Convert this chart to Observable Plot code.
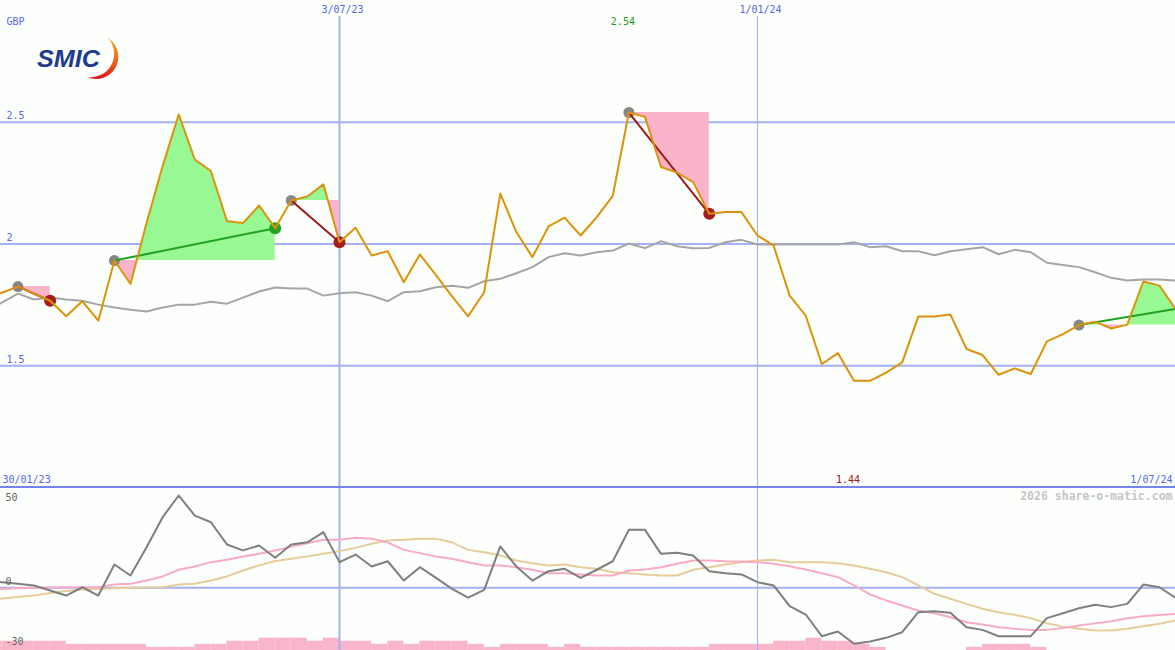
<!DOCTYPE html>
<html><head><meta charset="utf-8">
<script src="https://cdn.jsdelivr.net/npm/d3@7"></script>
<script src="https://cdn.jsdelivr.net/npm/@observablehq/plot@0.6"></script>
<style>
html,body{margin:0;padding:0;background:#fcfffc;}
#wrap{position:relative;width:1175px;height:650px;overflow:hidden;background:#fcfffc;}
#wrap svg.plotsvg{display:block;}
#logo{position:absolute;left:0;top:0;}
</style></head><body>
<div id="wrap"></div>
<script>
// ---------------- data ----------------
const startDate = "2023-01-30";            // first weekly observation (Monday)
const price = [
 1.780, 1.800, 1.825, 1.796, 1.767, 1.703, 1.765, 1.685, 1.932, 1.836,
 2.086, 2.320, 2.532, 2.347, 2.300, 2.094, 2.086, 2.158, 2.065, 2.179,
 2.195, 2.245, 2.007, 2.067, 1.953, 1.970, 1.843, 1.957, 1.872, 1.785,
 1.703, 1.802, 2.207, 2.049, 1.946, 2.072, 2.108, 2.035, 2.110, 2.198,
 2.540, 2.522, 2.316, 2.293, 2.254, 2.124, 2.131, 2.131, 2.035, 1.994,
 1.788, 1.706, 1.507, 1.552, 1.438, 1.438, 1.472, 1.514, 1.702, 1.702,
 1.710, 1.569, 1.544, 1.463, 1.489, 1.466, 1.600, 1.630, 1.667, 1.681,
 1.653, 1.669, 1.846, 1.829, 1.733];
const movingAvg = [
 1.726, 1.759, 1.796, 1.772, 1.780, 1.772, 1.767, 1.751, 1.739, 1.730,
 1.723, 1.739, 1.751, 1.751, 1.763, 1.755, 1.780, 1.805, 1.821, 1.817,
 1.817, 1.788, 1.798, 1.802, 1.788, 1.765, 1.802, 1.806, 1.822, 1.829,
 1.820, 1.847, 1.857, 1.880, 1.905, 1.946, 1.962, 1.953, 1.966, 1.973,
 2.002, 1.983, 2.012, 1.991, 1.983, 1.984, 2.007, 2.017, 1.998, 1.998,
 1.998, 1.998, 1.998, 1.998, 2.007, 1.987, 1.991, 1.970, 1.970, 1.954,
 1.970, 1.978, 1.987, 1.958, 1.976, 1.966, 1.923, 1.914, 1.905, 1.884,
 1.861, 1.850, 1.854, 1.854, 1.850];
const momentum = [
 4.0, 3.1, 2.2, 1.3, -1.5, -4.3, 0.3, -4.3, 12.9, 6.8,
 22.5, 39.1, 51.1, 40.0, 36.3, 24.0, 20.7, 23.4, 16.6, 24.0,
 25.2, 30.8, 14.2, 18.4, 11.8, 14.7, 4.0, 11.4, 5.5, -0.6,
 -5.5, -1.1, 22.9, 11.8, 4.0, 9.2, 10.5, 5.5, 10.0, 14.7,
 32.1, 32.1, 18.8, 19.4, 17.9, 9.2, 8.1, 7.4, 3.1, 1.3,
 -10.2, -14.8, -26.8, -24.2, -31.0, -29.7, -27.7, -24.6, -13.5, -13.0,
 -13.8, -21.8, -23.3, -26.8, -26.8, -26.8, -16.8, -14.1, -11.3, -9.4,
 -10.7, -8.9, 1.8, 0.3, -5.5];
const signalFast = [
 -0.7, -0.6, -0.3, 0.0, 0.2, 0.3, 0.3, 0.3, 1.8, 2.2,
 4.0, 6.3, 10.0, 11.8, 14.2, 15.5, 17.3, 18.8, 20.6, 22.8,
 24.7, 26.6, 26.6, 27.7, 27.1, 25.2, 21.0, 19.2, 17.3, 16.1,
 14.2, 12.4, 12.4, 11.4, 10.0, 8.1, 8.1, 7.4, 6.8, 6.8,
 9.6, 10.1, 11.4, 13.3, 15.1, 15.1, 14.7, 14.5, 14.2, 13.3,
 11.9, 10.1, 8.1, 5.9, 1.3, -3.7, -7.0, -9.8, -12.6, -14.1,
 -16.3, -19.1, -20.3, -21.8, -22.7, -23.3, -23.3, -22.2, -20.9, -19.7,
 -18.5, -16.9, -15.8, -15.0, -14.5];
const signalSlow = [
 -7.6, -5.9, -5.1, -4.3, -2.9, -1.8, -0.9, -0.6, -0.3, 0.0,
 0.2, 0.3, 1.8, 2.2, 4.0, 6.3, 9.6, 12.4, 14.8, 16.1,
 17.4, 18.8, 20.3, 22.1, 24.4, 26.2, 26.6, 27.1, 27.1, 25.2,
 21.0, 19.7, 17.9, 15.1, 13.6, 12.4, 12.9, 11.4, 10.5, 8.6,
 8.1, 7.4, 6.8, 6.8, 10.0, 11.4, 12.9, 14.2, 15.1, 15.5,
 14.2, 14.2, 14.2, 13.6, 12.4, 10.5, 8.6, 5.9, 1.3, -3.3,
 -6.1, -8.9, -11.6, -13.5, -15.0, -16.8, -19.6, -21.5, -22.7, -23.7,
 -23.7, -22.7, -21.3, -19.9, -18.1];
// histogram levels for each weekly interval (i -> i+1)
const histLevel = [
 3,3,3,3,3, 2,2,2,2,2, 1,1,1, 2,2, 3,3, 4,4,4, 3, 4, 3,3, 2, 3, 2, 3,3,3,
 2, 1, 2,2,2, 1, 2, 1,1,1,1,1,1,1,1, 2,2,2,2, 3,3, 4, 3,3, 2, 1,
 0,0,0,0,0, 1, 2,2,2, 1, 0,0,0,0,0,0,0,0];
// trades: entry / exit week index
const tradeEntry = [2, 8, 19, 40, 68];
const tradeExit  = [4, 18, 22, 45, 74];
const tradeOpen  = [false, false, false, false, true];

const priceTicks = [2.5, 2, 1.5];
const priceTickLabels = ["2.5", "2", "1.5"];
const markDates = ["2023-07-03", "2024-01-01"];
const markLabels = ["3/07/23", "1/01/24"];
const startLabel = "30/01/23";
const endLabel = "1/07/24";
const currencyLabel = "GBP";
const lowerTicks = [50, 0, -30];
const watermark = "2026 share-o-matic.com";

// ---------------- derived ----------------
const WEEK = 7 * 864e5;
const t0 = Date.parse(startDate + "T00:00:00Z");
const dates = price.map((_, i) => new Date(t0 + i * WEEK));
const rows = price.map((p, i) => ({date: dates[i], price: p, ma: movingAvg[i], mom: momentum[i], fast: signalFast[i], slow: signalSlow[i]}));
const trades = tradeEntry.map((a, t) => {
  const b = tradeExit[t];
  return {t, a, b, open: tradeOpen[t], gain: price[b] >= price[a]};
});
const fills = [];
trades.forEach(({t, a, b}) => {
  const e = price[a];
  for (let i = a; i <= b; i++) {
    fills.push({trade: t, date: dates[i], entry: e, p: price[i]});
    if (i < b) {
      const d0 = price[i] - e, d1 = price[i + 1] - e;
      if (d0 * d1 < 0) {
        const f = d0 / (d0 - d1);
        fills.push({trade: t, date: new Date(+dates[i] + f * WEEK), entry: e, p: e});
      }
    }
  }
});
const maxI = d3.maxIndex(price);
const minI = d3.minIndex(price);

// ---------------- styling ----------------
const BG = "#fcfffc";
const GRID = "#a4b1f2";
const LABEL = "#5566ee";
const FONT = "DejaVu Sans Mono, monospace";
const xScale = {type: "utc", domain: [new Date("2023-02-05T09:36:00Z"), new Date("2024-07-01T00:00:00Z")], axis: null};
const svgStyle = {background: BG, overflow: "hidden", fontFamily: FONT, fontSize: "10px"};

const topChart = Plot.plot({
  width: 1175, height: 488,
  marginTop: 0, marginRight: 0, marginBottom: 1, marginLeft: 0,
  x: xScale,
  y: {domain: [1, 3], axis: null},
  style: svgStyle,
  className: "plotsvg",
  marks: [
    Plot.ruleY(priceTicks, {stroke: GRID, strokeWidth: 2}),
    Plot.ruleX(markDates, {x: d => new Date(d + "T00:00:00Z"), stroke: GRID, strokeWidth: (d, i) => i === 0 ? 2 : 1, insetTop: 16}),
    Plot.areaY(fills, {x: "date", y1: "entry", y2: d => Math.max(d.p, d.entry), z: "trade", fill: "#97f894", curve: "linear"}),
    Plot.areaY(fills, {x: "date", y1: "entry", y2: d => Math.min(d.p, d.entry), z: "trade", fill: "#fab4ca", curve: "linear"}),
    Plot.line(rows, {x: "date", y: "ma", stroke: "#a5a5a5", strokeWidth: 2, clip: true}),
    Plot.dot(trades, {x: d => dates[d.a], y: d => price[d.a], r: 5.5, fill: "#868686", stroke: "none"}),
    Plot.dot(trades.filter(d => !d.open), {x: d => dates[d.b], y: d => price[d.b], r: 6, fill: d => d.gain ? "#26a226" : "#a51c1c", stroke: "none"}),
    Plot.link(trades, {x1: d => dates[d.a], y1: d => price[d.a], x2: d => dates[d.b], y2: d => price[d.b], stroke: d => d.gain ? "#20a020" : "#a01a1a", strokeWidth: 2}),
    Plot.line(rows, {x: "date", y: "price", stroke: "#dc930c", strokeWidth: 2, clip: true}),
    Plot.ruleY([1], {stroke: "#7385ef", strokeWidth: 2, dy: -0.5}),
    // labels
    Plot.text([currencyLabel], {frameAnchor: "top-left", dx: 6, dy: 21, textAnchor: "start", lineAnchor: "middle", fill: LABEL}),
    Plot.text(priceTicks, {y: d => d, text: (d, i) => priceTickLabels[i], frameAnchor: "left", dx: 6, dy: -6, textAnchor: "start", lineAnchor: "middle", fill: LABEL}),
    Plot.text(markDates, {x: d => new Date(d + "T00:00:00Z"), text: (d, i) => markLabels[i], frameAnchor: "top", dx: 3, dy: 9, textAnchor: "middle", lineAnchor: "middle", fill: LABEL}),
    Plot.text([maxI], {x: i => dates[i], text: i => d3.format(".2f")(price[i]), frameAnchor: "top", dx: -6, dy: 21, textAnchor: "middle", lineAnchor: "middle", fill: "#1f9a1f"}),
    Plot.text([minI], {x: i => dates[i], text: i => d3.format(".2f")(price[i]), frameAnchor: "bottom", dx: -6, dy: -8, textAnchor: "middle", lineAnchor: "middle", fill: "#a01414"}),
    Plot.text([startLabel], {frameAnchor: "bottom-left", dx: 2, dy: -8, textAnchor: "start", lineAnchor: "middle", fill: LABEL}),
    Plot.text([endLabel], {frameAnchor: "bottom-right", dx: -3, dy: -8, textAnchor: "end", lineAnchor: "middle", fill: LABEL})
  ]
});

const yLo = -34.72, yHi = 54.98, levelUnit = 1.705;
const bottomChart = Plot.plot({
  width: 1175, height: 162,
  marginTop: 0, marginRight: 0, marginBottom: 0, marginLeft: 0,
  x: xScale,
  y: {domain: [yLo, yHi], axis: null},
  style: svgStyle,
  className: "plotsvg",
  marks: [
    Plot.rect(histLevel, {x1: (d, i) => dates[i], x2: (d, i) => dates[i + 1], y1: () => yLo, y2: d => yLo + d * levelUnit, fill: "#f9b5c9", clip: true}),
    Plot.ruleY([0], {stroke: GRID, strokeWidth: 2}),
    Plot.ruleX(markDates, {x: d => new Date(d + "T00:00:00Z"), stroke: GRID, strokeWidth: (d, i) => i === 0 ? 2 : 1}),
    Plot.line(rows, {x: "date", y: "slow", stroke: "#e6cc9a", strokeWidth: 2, clip: true}),
    Plot.line(rows, {x: "date", y: "fast", stroke: "#f9abc4", strokeWidth: 2, clip: true}),
    Plot.line(rows, {x: "date", y: "mom", stroke: "#7f7f7f", strokeWidth: 2, clip: true}),
    Plot.text(lowerTicks.filter(d => d !== 0), {y: d => d, text: d => String(d), frameAnchor: "left", dx: 5, dy: 0, textAnchor: "start", lineAnchor: "middle", fill: "#666"}),
    Plot.text(lowerTicks.filter(d => d === 0), {y: d => d, text: d => String(d), frameAnchor: "left", dx: 5, dy: -6, textAnchor: "start", lineAnchor: "middle", fill: "#666"}),
    Plot.text([watermark], {frameAnchor: "top-right", dx: -3, dy: 8, textAnchor: "end", lineAnchor: "middle", fill: "#c6c6c6", fontWeight: "bold", fontSize: 11.5})
  ]
});

const wrap = document.getElementById("wrap");
wrap.appendChild(topChart);
wrap.appendChild(bottomChart);
wrap.insertAdjacentHTML("beforeend", `
<svg id="logo" width="130" height="90" viewBox="0 0 130 90">
 <defs><linearGradient id="lg" x1="0" y1="0" x2="0" y2="1">
  <stop offset="0" stop-color="#f7a81c"/><stop offset="0.55" stop-color="#ee6a1c"/><stop offset="1" stop-color="#d8141e"/>
 </linearGradient></defs>
 <path d="M108,38 A22.2,22.2 0 0 1 87,77 A23.5,23.5 0 0 0 108,38 Z" fill="url(#lg)"/>
 <text x="37" y="67" font-family="'Liberation Sans', Arial, sans-serif" font-weight="bold" font-style="italic" font-size="23" fill="#1d3c8f" textLength="63" lengthAdjust="spacingAndGlyphs">SMIC</text>
</svg>`);
</script>
</body></html>
